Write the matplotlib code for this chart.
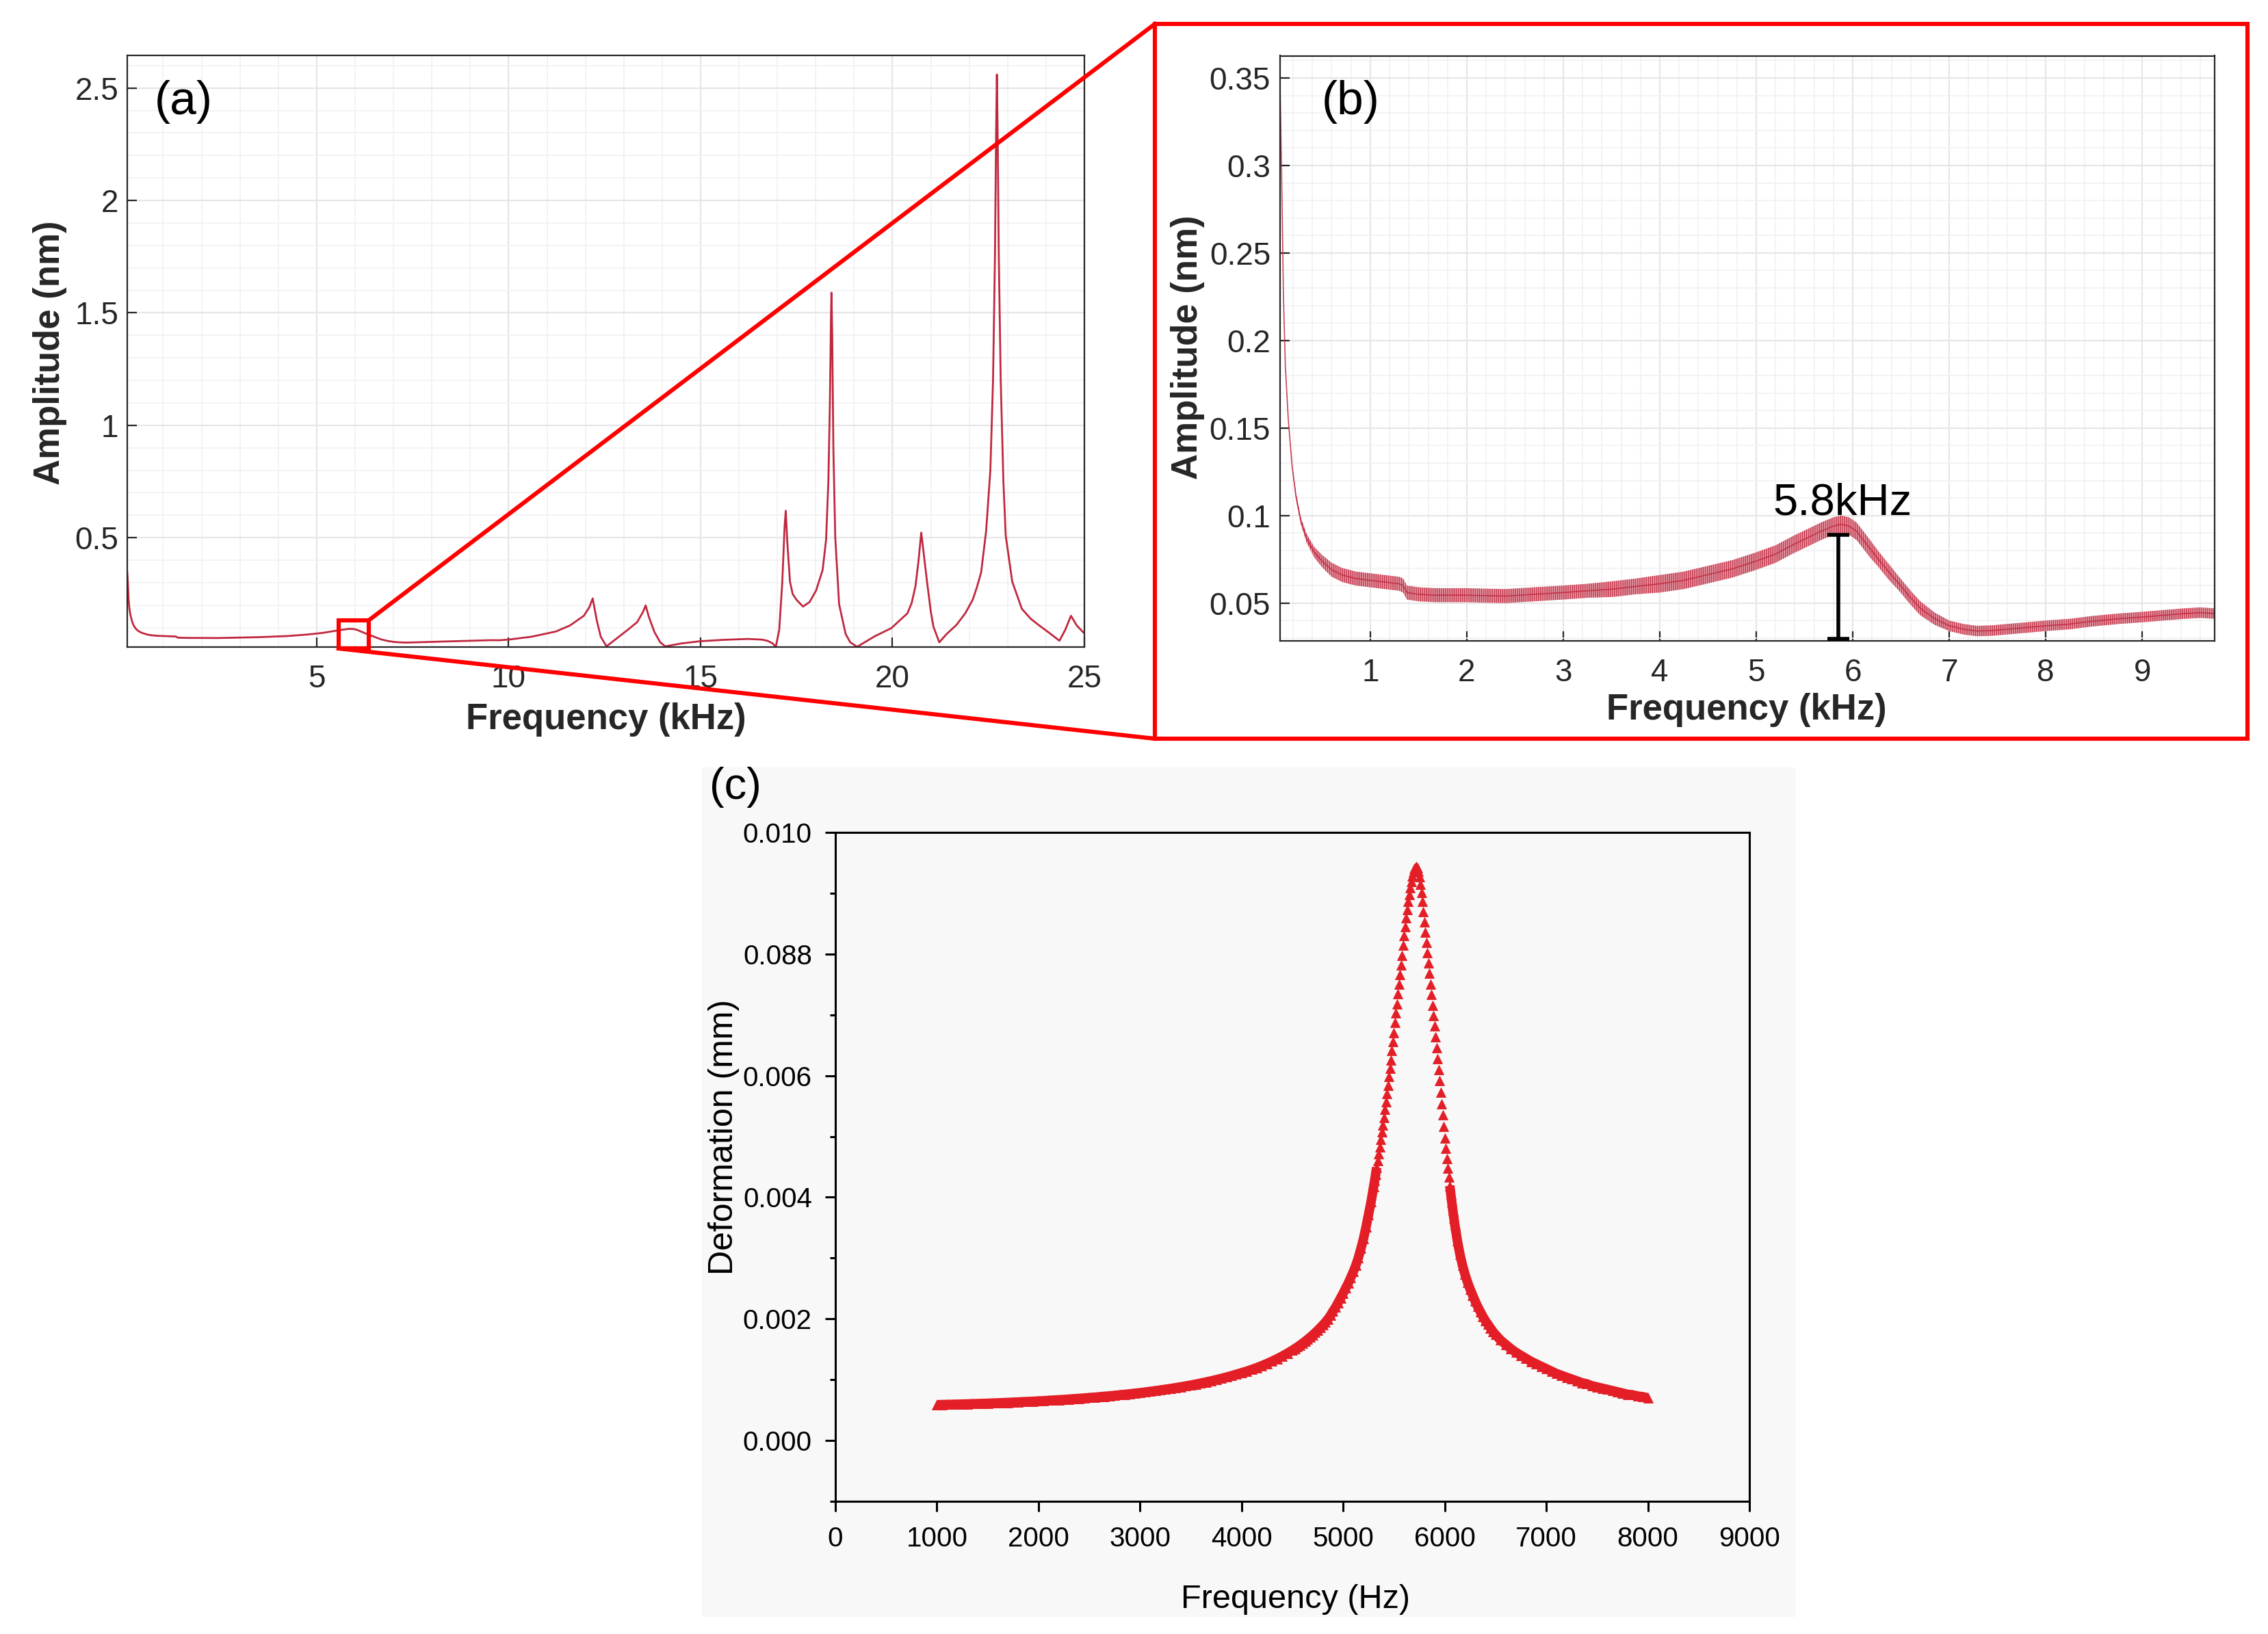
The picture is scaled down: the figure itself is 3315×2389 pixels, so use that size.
import numpy as np
import matplotlib

matplotlib.use("Agg")
import matplotlib.pyplot as plt
from matplotlib.lines import Line2D
from matplotlib.patches import Rectangle
from matplotlib.ticker import MultipleLocator

plt.rcParams["font.family"] = ["Liberation Sans", "DejaVu Sans"]
plt.rcParams["hatch.linewidth"] = 0.5

W, H = 3316, 2389
DPI = 200

# measured amplitude spectrum (kHz, nm); the low part is shared by (a) and (b)
freq_low = [0.065, 0.08, 0.10, 0.12, 0.15, 0.19, 0.23, 0.28, 0.34, 0.42,
            0.50, 0.60, 0.71, 0.85, 1.00, 1.15, 1.30, 1.34, 1.38, 1.50,
            1.67, 1.85, 2.00, 2.20, 2.41, 2.70, 3.00, 3.25, 3.52, 3.75,
            4.00, 4.25, 4.48, 4.75, 5.00, 5.20, 5.37, 5.52, 5.67, 5.80,
            5.88, 5.96, 6.04, 6.11, 6.18, 6.26, 6.37, 6.48, 6.60, 6.70,
            6.85, 7.00, 7.15, 7.29, 7.45, 7.59, 7.80, 8.00, 8.25, 8.48,
            8.75, 9.00, 9.22, 9.44, 9.60, 9.75]
amp_low = [0.345, 0.30, 0.225, 0.185, 0.155, 0.128, 0.111, 0.097, 0.087, 0.079,
           0.074, 0.069, 0.066, 0.064, 0.063, 0.062, 0.061, 0.060, 0.056, 0.055,
           0.0545, 0.0545, 0.0545, 0.0542, 0.054, 0.055, 0.056, 0.057, 0.058, 0.0595,
           0.061, 0.063, 0.066, 0.0695, 0.074, 0.078, 0.083, 0.087, 0.091, 0.094,
           0.095, 0.094, 0.091, 0.086, 0.081, 0.0755, 0.068, 0.061, 0.053, 0.047,
           0.041, 0.037, 0.035, 0.034, 0.0343, 0.035, 0.036, 0.037, 0.038, 0.0396,
           0.041, 0.042, 0.043, 0.044, 0.0445, 0.044]
# half width of the noise band seen in (b)
noise_low = [0.001, 0.001, 0.001, 0.001, 0.001, 0.0015, 0.002, 0.002, 0.0025, 0.003,
             0.0035, 0.004, 0.004, 0.004, 0.004, 0.004, 0.004, 0.004, 0.004, 0.004,
             0.004, 0.004, 0.004, 0.004, 0.004, 0.004, 0.004, 0.004, 0.0045, 0.0045,
             0.005, 0.005, 0.005, 0.005, 0.005, 0.005, 0.005, 0.005, 0.005, 0.005,
             0.005, 0.005, 0.005, 0.005, 0.005, 0.0045, 0.0045, 0.004, 0.004, 0.004,
             0.0035, 0.003, 0.003, 0.003, 0.003, 0.003, 0.003, 0.003, 0.003, 0.003,
             0.003, 0.003, 0.003, 0.003, 0.003, 0.003]
freq_high = [10.0, 10.6, 11.23, 11.6, 11.96, 12.1, 12.19, 12.3, 12.4, 12.55,
             12.8, 13.1, 13.35, 13.5, 13.57, 13.65, 13.8, 13.95, 14.08, 14.5,
             15.0, 15.6, 16.23, 16.6, 16.74, 16.88, 16.96, 17.05, 17.13, 17.19,
             17.22, 17.26, 17.33, 17.4, 17.5, 17.67, 17.84, 18.01, 18.18, 18.27,
             18.33, 18.37, 18.40, 18.41, 18.43, 18.46, 18.51, 18.61, 18.78, 18.9,
             19.08, 19.54, 19.97, 20.39, 20.5, 20.6, 20.68, 20.75, 20.82, 20.9,
             21.0, 21.07, 21.22, 21.4, 21.67, 21.9, 22.09, 22.2, 22.31, 22.44,
             22.55, 22.62, 22.67, 22.70, 22.72, 22.74, 22.77, 22.82, 22.89, 22.95,
             23.12, 23.37, 23.6, 23.8, 24.1, 24.35, 24.5, 24.65, 24.8, 24.95, 25.0]
amp_high = [0.047, 0.06, 0.083, 0.11, 0.153, 0.19, 0.23, 0.13, 0.06, 0.017,
            0.05, 0.09, 0.125, 0.17, 0.199, 0.15, 0.08, 0.035, 0.017, 0.03,
            0.04, 0.046, 0.05, 0.047, 0.042, 0.03, 0.015, 0.09, 0.305, 0.55,
            0.62, 0.48, 0.305, 0.25, 0.224, 0.194, 0.214, 0.265, 0.356, 0.49,
            0.75, 1.1, 1.5, 1.59, 1.4, 0.9, 0.5, 0.204, 0.072, 0.035,
            0.015, 0.062, 0.098, 0.164, 0.21, 0.285, 0.40, 0.523, 0.42, 0.305,
            0.17, 0.103, 0.035, 0.07, 0.113, 0.165, 0.224, 0.28, 0.346, 0.53,
            0.80, 1.2, 1.75, 2.3, 2.56, 2.3, 1.75, 1.2, 0.75, 0.51,
            0.305, 0.184, 0.14, 0.113, 0.075, 0.042, 0.09, 0.153, 0.11, 0.083, 0.075]

# zoomed window of (a) shown in (b)
zoom_freq = (5.57, 6.35)
zoom_amp = (0.0076, 0.132)

peak_label = "5.8kHz"
peak_freq = 5.85
peak_top = 0.089
peak_bottom = 0.0295

# simulated harmonic response (Hz, mm)
freq_c = np.concatenate([
    np.arange(1000, 4001, 50),
    np.arange(4050, 4501, 50),
    np.arange(4525, 5301, 25),
    np.arange(5310, 6101, 10),
    np.arange(6125, 6501, 25),
    np.arange(6550, 8001, 50),
])
defl_c = [
    # 1000 - 4000, every 50 Hz
    0.000588, 0.000590, 0.000592, 0.000594, 0.000596, 0.000599, 0.000601, 0.000604, 0.000606, 0.000609,
    0.000612, 0.000615, 0.000618, 0.000622, 0.000625, 0.000629, 0.000633, 0.000637, 0.000641, 0.000645,
    0.000649, 0.000654, 0.000659, 0.000664, 0.000669, 0.000674, 0.000680, 0.000686, 0.000692, 0.000698,
    0.000705, 0.000711, 0.000718, 0.000726, 0.000733, 0.000741, 0.000750, 0.000758, 0.000767, 0.000777,
    0.000786, 0.000796, 0.000807, 0.000818, 0.000830, 0.000842, 0.000854, 0.000868, 0.000881, 0.000896,
    0.000911, 0.000927, 0.000944, 0.000962, 0.000980, 0.001000, 0.001020, 0.001042, 0.001065, 0.001090,
    0.001115,
    # 4050 - 4500
    0.001139, 0.001168, 0.001198, 0.001231, 0.001266, 0.001304, 0.001344, 0.001387, 0.001434, 0.001484,
    # 4525 - 5300, every 25 Hz
    0.001511, 0.001539, 0.001568, 0.001598, 0.001630, 0.001663, 0.001698, 0.001734, 0.001773, 0.001813,
    0.001855, 0.001899, 0.001946, 0.001997, 0.002055, 0.002127, 0.002190, 0.002266, 0.002344, 0.002420,
    0.002505, 0.002587, 0.002680, 0.002777, 0.002881, 0.003008, 0.003157, 0.003318, 0.003509, 0.003718,
    0.003927, 0.004175,
    # 5310 - 6100, every 10 Hz
    0.00427, 0.00438, 0.00449, 0.00460, 0.00471, 0.00483, 0.00495, 0.00507, 0.00519, 0.00531,
    0.00544, 0.00557, 0.00570, 0.00584, 0.00598, 0.00612, 0.00626, 0.00641, 0.00656, 0.00671,
    0.00687, 0.00703, 0.00718, 0.00734, 0.00750, 0.00766, 0.00782, 0.00798, 0.00814, 0.00830,
    0.00845, 0.00859, 0.00873, 0.00886, 0.00898, 0.00909, 0.00919, 0.00928, 0.00935, 0.00940,
    0.00943, 0.00944, 0.00942, 0.00936, 0.00927, 0.00915, 0.00901, 0.00886, 0.00870, 0.00853,
    0.00836, 0.00819, 0.00802, 0.00785, 0.00768, 0.00750, 0.00733, 0.00716, 0.00699, 0.00682,
    0.00664, 0.00646, 0.00628, 0.00610, 0.00592, 0.00573, 0.00554, 0.00535, 0.00516, 0.00497,
    0.00480, 0.00464, 0.00448, 0.00433, 0.00419, 0.00405, 0.00391, 0.00378, 0.00366, 0.00354,
    # 6125 - 6500, every 25 Hz
    0.00328, 0.00306, 0.00288, 0.00273, 0.00260, 0.00249, 0.00239, 0.00229, 0.00220, 0.00212,
    0.00204, 0.00197, 0.00191, 0.00185, 0.00179, 0.00174,
    # 6550 - 8000, every 50 Hz
    0.00165, 0.00158, 0.00151, 0.00145, 0.00140, 0.00135, 0.00130, 0.00126, 0.00122, 0.00118,
    0.00114, 0.00110, 0.00107, 0.00104, 0.00101, 0.00098, 0.00095, 0.00093, 0.00090, 0.00088,
    0.00086, 0.00084, 0.00082, 0.00080, 0.00078, 0.00076, 0.00075, 0.00073, 0.00072, 0.00070,
]

a_xticks = [5, 10, 15, 20, 25]
a_yticks = [0.5, 1, 1.5, 2, 2.5]
a_yticklabels = ["0.5", "1", "1.5", "2", "2.5"]
b_xticks = [1, 2, 3, 4, 5, 6, 7, 8, 9]
b_yticks = [0.05, 0.1, 0.15, 0.2, 0.25, 0.3, 0.35]
b_yticklabels = ["0.05", "0.1", "0.15", "0.2", "0.25", "0.3", "0.35"]
c_xticks = [0, 1000, 2000, 3000, 4000, 5000, 6000, 7000, 8000, 9000]
c_yticks = [0.0, 0.002, 0.004, 0.006, 0.008, 0.010]
c_yticklabels = ["0.000", "0.002", "0.004", "0.006", "0.088", "0.010"]

CURVE = "#c0283f"
BOX_RED = "#ff0000"
SIM_RED = "#e31e26"
TEXT = "#262626"


def fig_xy(x, y):
    return x / W, 1 - y / H


def rect(left, top, right, bottom):
    return [left / W, 1 - bottom / H, (right - left) / W, (bottom - top) / H]


def style_matlab(ax, xminor, yminor):
    ax.set_axisbelow(True)
    ax.xaxis.set_minor_locator(MultipleLocator(xminor))
    ax.yaxis.set_minor_locator(MultipleLocator(yminor))
    ax.grid(which="major", color="#e6e6e6", linewidth=0.8)
    ax.grid(which="minor", color="#f1f1f1", linewidth=0.6)
    ax.tick_params(which="major", direction="in", length=5, width=0.8, colors=TEXT,
                   labelsize=16.5, top=False, right=False)
    ax.tick_params(which="minor", length=0)
    ax.tick_params(axis="x", pad=9)
    for sp in ax.spines.values():
        sp.set_color(TEXT)
        sp.set_linewidth(0.8)


fig = plt.figure(figsize=(W / DPI, H / DPI), dpi=DPI)

# (a) full spectrum
ax_a = fig.add_axes(rect(186, 81, 1585, 946))
ax_a.plot(freq_low + freq_high, amp_low + amp_high, color=CURVE, linewidth=1.0)
ax_a.set_xlim(0.065, 25)
ax_a.set_ylim(0.014, 2.645)
ax_a.set_xticks(a_xticks)
ax_a.set_yticks(a_yticks)
ax_a.set_yticklabels(a_yticklabels)
style_matlab(ax_a, 1, 0.1)
ax_a.tick_params(axis="y", pad=4.5)
ax_a.add_patch(Rectangle((zoom_freq[0], zoom_amp[0]), zoom_freq[1] - zoom_freq[0],
                         zoom_amp[1] - zoom_amp[0], fill=False, edgecolor=BOX_RED,
                         linewidth=2.2, clip_on=False, zorder=5))

# (b) low-frequency zoom, noisy trace drawn as a hatched band
ax_b = fig.add_axes(rect(1871, 81.5, 3237, 936.7))
lo = np.array(amp_low) - np.array(noise_low)
hi = np.array(amp_low) + np.array(noise_low)
ax_b.fill_between(freq_low, lo, hi, facecolor="#eab3bc", edgecolor=CURVE,
                  hatch="|" * 12, linewidth=0)
ax_b.plot(freq_low, amp_low, color=CURVE, linewidth=0.6, alpha=0.85)
ax_b.set_xlim(0.065, 9.75)
ax_b.set_ylim(0.0285, 0.3627)
ax_b.set_xticks(b_xticks)
ax_b.set_yticks(b_yticks)
ax_b.set_yticklabels(b_yticklabels)
style_matlab(ax_b, 0.2, 0.01)
ax_b.tick_params(axis="y", pad=5)
ax_b.errorbar(peak_freq, (peak_top + peak_bottom) / 2, yerr=(peak_top - peak_bottom) / 2,
              fmt="none", ecolor="black", elinewidth=2, capsize=5.6, capthick=2,
              clip_on=False, zorder=6)
ax_b.text(5.89, 0.1004, peak_label, fontsize=23.5, ha="center", va="baseline", color="black")

# red frame around (b) and connector lines from the zoom box
fig.patches.append(Rectangle(fig_xy(1688, 1080), (3285 - 1688) / W, (1080 - 35) / H,
                             transform=fig.transFigure, fill=False, edgecolor=BOX_RED,
                             linewidth=2.2))
to_fig = fig.transFigure.inverted()
p_top = to_fig.transform(ax_a.transData.transform((zoom_freq[1], zoom_amp[1])))
p_bot = to_fig.transform(ax_a.transData.transform((zoom_freq[0], zoom_amp[0])))
for p, q in [(p_top, fig_xy(1688, 35)), (p_bot, fig_xy(1688, 1080))]:
    fig.lines.append(Line2D([p[0], q[0]], [p[1], q[1]], transform=fig.transFigure,
                            color=BOX_RED, linewidth=2.2))

# (c) simulation panel on its light grey background
fig.patches.append(Rectangle(fig_xy(1026, 2364), (2624 - 1026) / W, (2364 - 1122) / H,
                             transform=fig.transFigure, facecolor="#f8f8f8",
                             edgecolor="none", zorder=-5))
ax_c = fig.add_axes(rect(1221, 1217, 2557, 2195))
ax_c.set_zorder(2)
ax_c.set_facecolor("#f8f8f8")
defl = np.array(defl_c)
# the overlapping symbols merge into a solid band away from the peak
left = freq_c <= 5330
right = freq_c >= 6050
ax_c.plot(freq_c[left], defl[left], color=SIM_RED, linewidth=5.0, solid_capstyle="butt")
ax_c.plot(freq_c[right], defl[right], color=SIM_RED, linewidth=5.0, solid_capstyle="butt")
ax_c.plot(freq_c, defl, linestyle="none", marker="^", markersize=5.2,
          color=SIM_RED, markeredgecolor=SIM_RED, markeredgewidth=0.3)
ax_c.set_xlim(0, 9000)
ax_c.set_ylim(-0.001, 0.010)
ax_c.set_xticks(c_xticks)
ax_c.set_yticks(c_yticks)
ax_c.set_yticklabels(c_yticklabels)
ax_c.yaxis.set_minor_locator(MultipleLocator(0.001))
ax_c.tick_params(which="major", direction="out", length=5.5, width=1.1, labelsize=14.5,
                 top=False, right=False)
ax_c.tick_params(which="minor", direction="out", length=3, width=1.1)
ax_c.tick_params(axis="x", pad=7.5)
ax_c.tick_params(axis="y", pad=6.8)
for sp in ax_c.spines.values():
    sp.set_linewidth(1.1)

# labels
fig.text(*fig_xy(73, 516), "Amplitude (nm)", rotation=90, fontsize=19, fontweight="bold",
         ha="center", va="center", color=TEXT)
fig.text(*fig_xy(886, 1066), "Frequency (kHz)", fontsize=19, fontweight="bold",
         ha="center", va="baseline", color=TEXT)
fig.text(*fig_xy(1736, 508), "Amplitude (nm)", rotation=90, fontsize=19, fontweight="bold",
         ha="center", va="center", color=TEXT)
fig.text(*fig_xy(2553, 1052), "Frequency (kHz)", fontsize=19, fontweight="bold",
         ha="center", va="baseline", color=TEXT)
fig.text(*fig_xy(1058, 1662), "Deformation (mm)", rotation=90, fontsize=18,
         ha="center", va="center")
fig.text(*fig_xy(1894, 2351), "Frequency (Hz)", fontsize=17.5, ha="center", va="baseline")

fig.text(*fig_xy(226, 167), "(a)", fontsize=25, ha="left", va="baseline")
fig.text(*fig_xy(1932, 167), "(b)", fontsize=25, ha="left", va="baseline")
fig.text(*fig_xy(1037, 1168), "(c)", fontsize=23.5, ha="left", va="baseline")

fig.savefig("out.png", dpi=DPI)
